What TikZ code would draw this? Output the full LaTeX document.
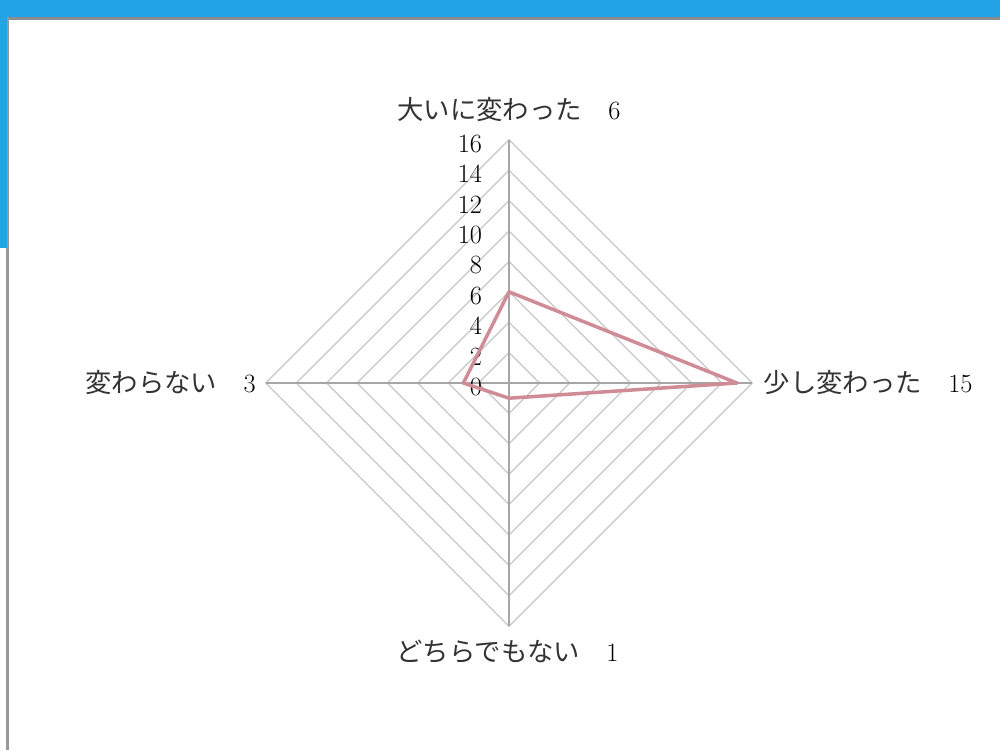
\documentclass[tikz,border=0pt]{standalone}
\usepackage{fontspec}
\newfontfamily\jp{Noto Sans CJK JP}
\definecolor{barblue}{RGB}{34,163,229}
\definecolor{webgray}{RGB}{200,200,200}
\definecolor{datared}{RGB}{208,140,150}
\begin{document}
\begin{tikzpicture}[x=0.2mm,y=-0.2mm]
		\useasboundingbox (0,0) rectangle (1000,750);
		%window frame
		\fill[white] (0,0) rectangle (1000,750);
		\fill[black!45] (6,17) rectangle (1000,20);
		\fill[black!40] (6,17) rectangle (9,750);
		\fill[barblue] (0,0) rectangle (1000,17);
		\fill[barblue] (0,0) rectangle (7,248);
		
		\begin{scope}[shift={(509,383)},x=3.04mm,y=3.04mm]
			\foreach \r in {2,4,...,16}
				\draw[webgray, line width=0.7pt] (0,\r)--(\r,0)--(0,-\r)--(-\r,0)--cycle;
			\draw[black!35, line width=0.7pt] (-16,0)--(16,0);
			\draw[black!35, line width=0.7pt] (0,-16)--(0,16);
			\foreach \r in {0,2,...,16}
				\node[anchor=east, inner sep=0pt, font=\fontsize{15}{15}\selectfont] (tick\r) at (-1.75,\r-0.25) {\r};
			
			\coordinate (big) at (0,6);
			\coordinate (little) at (15,0);
			\coordinate (neither) at (0,-1);
			\coordinate (none) at (-3,0);
			\draw[datared, line width=2pt, line join=round] (big)--(little)--(neither)--(none)--cycle;
			
			\node[font=\fontsize{15}{15}\selectfont, text=black!80] (lbig) at (0,18.0) {{\jp 大いに変わった}\quad\textcolor{black}{6}};
			\node[anchor=west, font=\fontsize{15}{15}\selectfont, text=black!80] (llittle) at (16.35,0) {{\jp 少し変わった}\quad\textcolor{black}{15}};
			\node[font=\fontsize{15}{15}\selectfont, text=black!80] (lneither) at (-0.1,-17.7) {{\jp どちらでもない}\quad\textcolor{black}{1}};
			\node[anchor=east, font=\fontsize{15}{15}\selectfont, text=black!80] (lnone) at (-16.25,0) {{\jp 変わらない}\quad\textcolor{black}{3}};
		\end{scope}
	\end{tikzpicture}
\end{document}
